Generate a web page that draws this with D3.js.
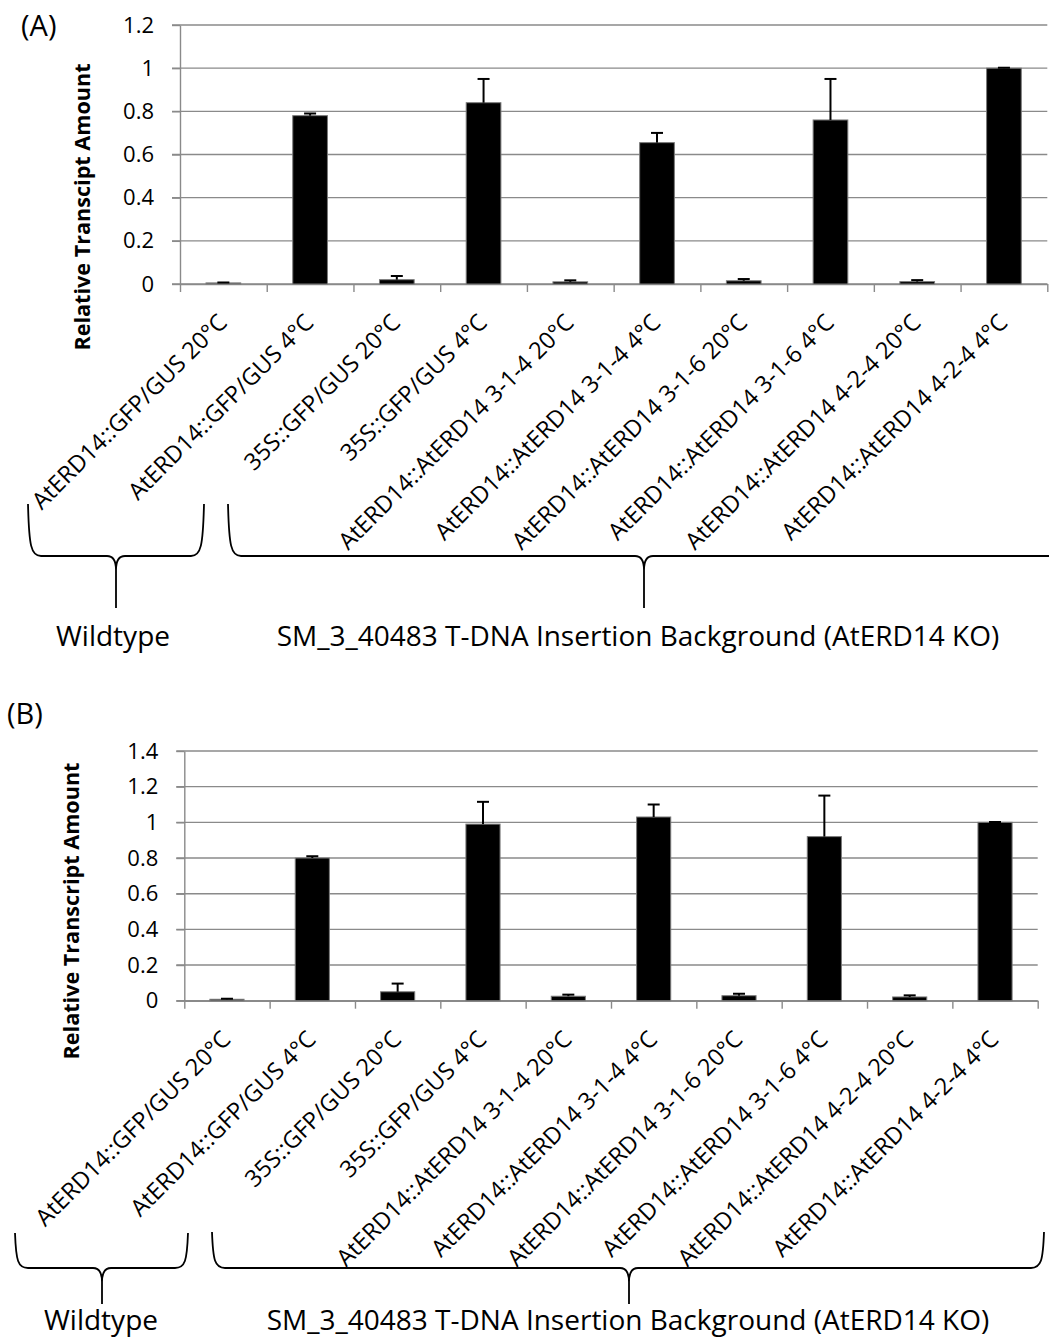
<!DOCTYPE html>
<html>
<head>
<meta charset="utf-8">
<script src="https://cdn.jsdelivr.net/npm/d3@7"></script>
<style>
  body { margin: 0; background: #fff; }
  svg { display: block; }
  text { font-family: "Open Sans", "Noto Sans", sans-serif; fill: #000; }
</style>
</head>
<body>
<svg id="chart" width="1049" height="1339"></svg>
<script>
// Sample categories (transgenic lines and temperature)
const categories = [
  "AtERD14::GFP/GUS 20°C",
  "AtERD14::GFP/GUS 4°C",
  "35S::GFP/GUS 20°C",
  "35S::GFP/GUS 4°C",
  "AtERD14::AtERD14 3-1-4 20°C",
  "AtERD14::AtERD14 3-1-4 4°C",
  "AtERD14::AtERD14 3-1-6 20°C",
  "AtERD14::AtERD14 3-1-6 4°C",
  "AtERD14::AtERD14 4-2-4 20°C",
  "AtERD14::AtERD14 4-2-4 4°C"
];

// Panel A: relative transcript amount and upper error
const valuesA = [0.005, 0.78, 0.02, 0.84, 0.01, 0.655, 0.015, 0.76, 0.011, 1.0];
const errorsA = [0.002, 0.01, 0.017, 0.11, 0.007, 0.045, 0.008, 0.19, 0.007, 0.002];
const ticksA = [0, 0.2, 0.4, 0.6, 0.8, 1, 1.2];

// Panel B: relative transcript amount and upper error
const valuesB = [0.008, 0.80, 0.05, 0.99, 0.025, 1.03, 0.028, 0.92, 0.021, 1.0];
const errorsB = [0.003, 0.01, 0.046, 0.125, 0.009, 0.07, 0.011, 0.23, 0.009, 0.002];
const ticksB = [0, 0.2, 0.4, 0.6, 0.8, 1, 1.2, 1.4];

// Background groups below the category labels
const groupLabels = ["Wildtype", "SM_3_40483 T-DNA Insertion Background (AtERD14 KO)"];

const svg = d3.select("#chart");
const GRID = "#8a8a8a";

function drawPanel(p) {
  const g = svg.append("g");
  const [x0, x1] = p.xRange;
  const [yBottom] = p.yRange;

  const x = d3.scaleBand().domain(categories).range(p.xRange)
    .paddingInner(0.6).paddingOuter(0.3);
  const xEdge = d3.scaleLinear().domain([0, categories.length]).range(p.xRange);
  const y = d3.scaleLinear().domain([0, d3.max(p.ticks)]).range(p.yRange);

  // horizontal gridlines (extend left to form the axis tick marks)
  g.append("g").selectAll("line").data(p.ticks).join("line")
    .attr("x1", x0 - 8).attr("x2", x1)
    .attr("y1", d => y(d)).attr("y2", d => y(d))
    .attr("stroke", GRID).attr("stroke-width", 1.4);

  // value axis
  const yAxis = g.append("g").attr("transform", `translate(${x0},0)`)
    .call(d3.axisLeft(y).tickValues(p.ticks).tickSize(8).tickSizeOuter(0)
      .tickPadding(18).tickFormat(d3.format("~g")));
  yAxis.select(".domain").attr("stroke", GRID).attr("stroke-width", 1.4);
  yAxis.selectAll(".tick line").attr("stroke", GRID).attr("stroke-width", 1.4);
  yAxis.selectAll(".tick text").style("font-size", "22px")
    .style("font-family", "'Open Sans', sans-serif").attr("fill", "#000");

  // category axis with tick marks at category boundaries
  const xAxis = g.append("g").attr("transform", `translate(0,${yBottom})`)
    .call(d3.axisBottom(xEdge).tickValues(d3.range(categories.length + 1))
      .tickSize(8).tickSizeOuter(0).tickFormat(""));
  xAxis.select(".domain").attr("stroke", GRID).attr("stroke-width", 1.4);
  xAxis.selectAll(".tick line").attr("stroke", GRID).attr("stroke-width", 1.4);

  // bars
  g.append("g").selectAll("rect").data(p.values).join("rect")
    .attr("x", (d, i) => x(categories[i]))
    .attr("width", x.bandwidth())
    .attr("y", d => y(d))
    .attr("height", d => yBottom - y(d))
    .attr("fill", "#000")
    .attr("stroke", "#7a7a7a").attr("stroke-width", 1);

  // upper error bars
  const eb = g.append("g").attr("stroke", "#000").attr("stroke-width", 2);
  p.values.forEach((v, i) => {
    const cx = x(categories[i]) + x.bandwidth() / 2;
    const top = y(v + p.errors[i]);
    eb.append("line").attr("x1", cx).attr("x2", cx).attr("y1", y(v)).attr("y2", top);
    eb.append("line").attr("x1", cx - 6).attr("x2", cx + 6).attr("y1", top).attr("y2", top);
  });

  // rotated category labels
  g.append("g").selectAll("text").data(categories).join("text")
    .attr("transform", d => `translate(${x(d) + x.bandwidth() / 2 + 5},${yBottom + 40}) rotate(-45)`)
    .attr("text-anchor", "end")
    .style("font-size", "23.5px")
    .text(d => d);

  // value axis title
  g.append("text")
    .attr("transform", `translate(${p.titleX},${p.titleY}) rotate(-90)`)
    .attr("text-anchor", "middle")
    .style("font-size", "21.6px").style("font-weight", "bold")
    .text(p.title);

  // panel letter
  g.append("text").attr("x", p.letterPos[0]).attr("y", p.letterPos[1])
    .style("font-size", "29px").text(p.letter);

  // group braces and their captions
  p.braces.forEach((b, k) => {
    const { left, right, center, top, mid, tip } = b;
    const path = d3.path();
    path.moveTo(left, top);
    path.bezierCurveTo(left + 1, top + (mid - top) * 0.8, left + 3, mid, left + 13, mid);
    path.lineTo(center - 9, mid);
    path.quadraticCurveTo(center, mid, center, mid + 14);
    path.lineTo(center, tip);
    path.moveTo(center, mid + 14);
    path.quadraticCurveTo(center, mid, center + 9, mid);
    path.lineTo(right - 13, mid);
    path.bezierCurveTo(right - 3, mid, right - 1, top + (mid - top) * 0.8, right, top);
    g.append("path").attr("d", path.toString())
      .attr("fill", "none").attr("stroke", "#000").attr("stroke-width", 1.8);

    g.append("text").attr("x", b.textX).attr("y", p.groupTextY)
      .attr("text-anchor", "middle").style("font-size", "28px")
      .text(groupLabels[k]);
  });
}

drawPanel({
  letter: "(A)", letterPos: [21, 36],
  title: "Relative Transcipt Amount", titleX: 90, titleY: 207,
  values: valuesA, errors: errorsA, ticks: ticksA,
  xRange: [180, 1047.3], yRange: [284, 25],
  groupTextY: 646,
  braces: [
    { left: 28, right: 204, center: 116, top: 504, mid: 556, tip: 608, textX: 113 },
    { left: 228, right: 1062, center: 644, top: 504, mid: 556, tip: 608, textX: 638 }
  ]
});

drawPanel({
  letter: "(B)", letterPos: [7, 724],
  title: "Relative Transcript Amount", titleX: 79, titleY: 911,
  values: valuesB, errors: errorsB, ticks: ticksB,
  xRange: [184.3, 1037.7], yRange: [1000.7, 751],
  groupTextY: 1330,
  braces: [
    { left: 15, right: 188, center: 102, top: 1233, mid: 1268, tip: 1304, textX: 101 },
    { left: 212, right: 1044, center: 629, top: 1232, mid: 1268, tip: 1304, textX: 628 }
  ]
});
</script>
</body>
</html>
